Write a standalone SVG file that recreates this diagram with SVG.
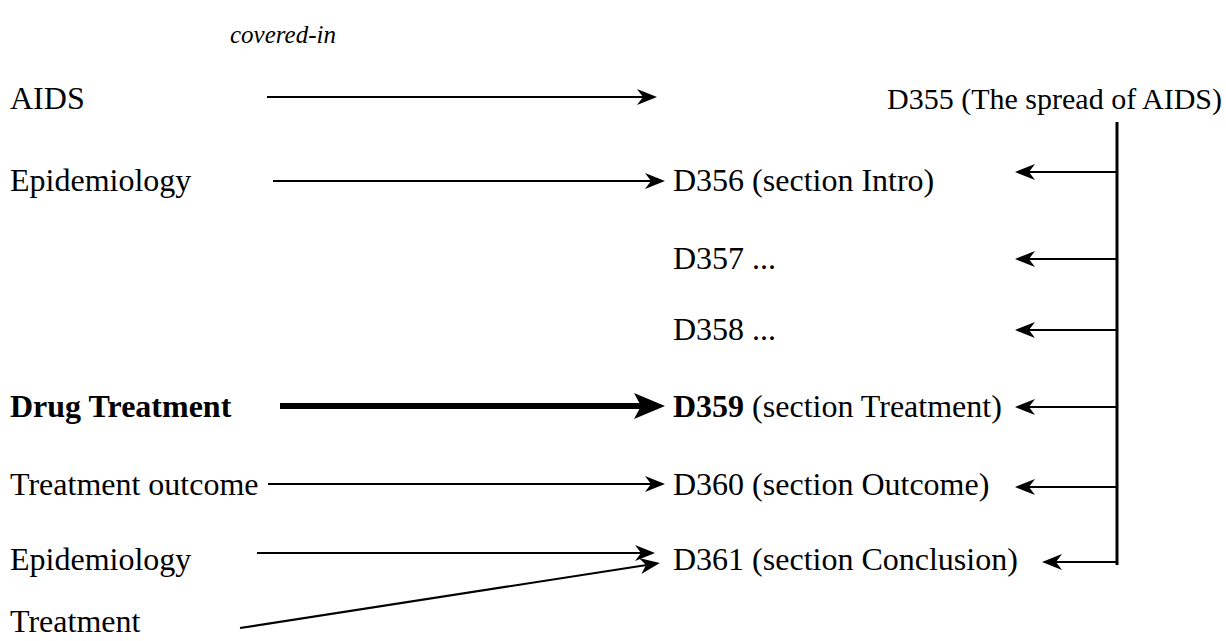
<svg xmlns="http://www.w3.org/2000/svg" width="1226" height="641" viewBox="0 0 1226 641">
  <style>
    text { font-family: "Liberation Serif", "Times New Roman", serif; font-size: 32px; fill: #000; }
    .b { font-weight: bold; }
    .i { font-style: italic; font-size: 25px; }
    .doc { font-size: 30px; }
    .ln { stroke: #000; stroke-width: 2.2; fill: none; }
    .thick { stroke: #000; stroke-width: 6; fill: none; }
    .bar { stroke: #000; stroke-width: 3; fill: none; }
  </style>
  <defs>
    <!-- notched arrowhead; the tip sits 10 units past the line end -->
    <marker id="head" markerUnits="userSpaceOnUse" viewBox="-12 -10 24 20" markerWidth="24" markerHeight="20" refX="0" refY="0" orient="auto" overflow="visible">
      <path d="M10,0 L-10,-8 L-4,0 L-10,8 Z" fill="#000"/>
    </marker>
    <marker id="headBig" markerUnits="userSpaceOnUse" viewBox="-12 -15 36 30" markerWidth="36" markerHeight="30" refX="0" refY="0" orient="auto" overflow="visible">
      <path d="M20,0 L-11,-13 L-4,0 L-11,13 Z" fill="#000"/>
    </marker>
  </defs>

  <g id="title"><text class="i" x="230" y="43">covered-in</text></g>

  <!-- subject terms -->
  <g id="t-aids"><text x="10" y="109">AIDS</text></g>
  <g id="t-epi1"><text x="10" y="191">Epidemiology</text></g>
  <g id="t-drug"><text class="b" x="10" y="417">Drug Treatment</text></g>
  <g id="t-outcome"><text x="10" y="495">Treatment outcome</text></g>
  <g id="t-epi2"><text x="10" y="570">Epidemiology</text></g>
  <g id="t-treat"><text x="10" y="632">Treatment</text></g>

  <!-- documents -->
  <g id="d355"><text class="doc" x="1222" y="109" text-anchor="end">D355 (The spread of AIDS)</text></g>
  <g id="d356"><text x="673" y="191">D356 (section Intro)</text></g>
  <g id="d357"><text x="673" y="269">D357 ...</text></g>
  <g id="d358"><text x="673" y="340">D358 ...</text></g>
  <g id="d359"><text x="673" y="417"><tspan class="b">D359</tspan> (section Treatment)</text></g>
  <g id="d360"><text x="673" y="495">D360 (section Outcome)</text></g>
  <g id="d361"><text x="673" y="570">D361 (section Conclusion)</text></g>

  <g id="connectors">
    <!-- covered-in links -->
    <line class="ln" x1="267" y1="97" x2="647" y2="97" marker-end="url(#head)"/>
    <line class="ln" x1="273" y1="181" x2="655" y2="181" marker-end="url(#head)"/>
    <line class="thick" x1="280" y1="406" x2="645" y2="406" marker-end="url(#headBig)"/>
    <line class="ln" x1="268" y1="484" x2="655" y2="484" marker-end="url(#head)"/>
    <line class="ln" x1="257" y1="553" x2="645" y2="553" marker-end="url(#head)"/>
    <line class="ln" x1="240" y1="628" x2="650" y2="564.5" marker-end="url(#head)"/>

    <!-- part-of structure of D355 -->
    <line class="bar" x1="1117" y1="122" x2="1117" y2="565"/>
    <line class="ln" x1="1116" y1="172" x2="1025" y2="172" marker-end="url(#head)"/>
    <line class="ln" x1="1116" y1="259" x2="1025" y2="259" marker-end="url(#head)"/>
    <line class="ln" x1="1116" y1="330" x2="1025" y2="330" marker-end="url(#head)"/>
    <line class="ln" x1="1116" y1="407" x2="1025" y2="407" marker-end="url(#head)"/>
    <line class="ln" x1="1116" y1="487" x2="1025" y2="487" marker-end="url(#head)"/>
    <line class="ln" x1="1116" y1="562" x2="1052" y2="562" marker-end="url(#head)"/>
  </g>
</svg>
